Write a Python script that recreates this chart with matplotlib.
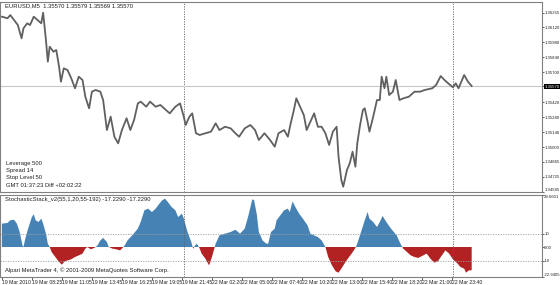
import numpy as np
import matplotlib
matplotlib.use("Agg")
import matplotlib.pyplot as plt

# price (close), x in bar index (M5 bars)
price_idx = [0, 6, 9, 13, 17, 21, 23, 27, 30, 34, 38, 42, 44, 47, 49, 51, 55, 58, 61, 63,
             66, 70, 74, 78, 82, 86, 89, 93, 96, 100, 105, 108, 112, 116, 120, 124, 128, 133,
             137, 141, 145, 148, 154, 158, 164, 169, 175, 179, 185, 190, 194, 196, 200, 203,
             207, 211, 217, 223, 228, 232, 238, 244, 249, 253, 259, 265, 270, 274, 280, 286,
             291, 295, 301, 305, 308, 311, 314, 318, 322, 325, 329, 333, 337, 341, 345, 349,
             353, 357, 359, 362, 364, 368, 371, 374, 377, 379, 382, 385, 387, 390, 392, 396,
             400, 403, 405, 408, 410, 413, 417, 420, 424, 428, 434, 440, 446, 451, 459, 463,
             468, 472, 476, 481, 484, 487, 493, 497, 501]
price = [1.36217, 1.36202, 1.36232, 1.36186, 1.36139, 1.36015, 1.36108, 1.36155, 1.36139,
         1.36217, 1.36186, 1.36155, 1.36254, 1.35999, 1.35797, 1.35937, 1.35890, 1.35906,
         1.35750, 1.35610, 1.35735, 1.35719, 1.35642, 1.35549, 1.35657, 1.35626, 1.35470,
         1.35362, 1.35517, 1.35533, 1.35517, 1.35439, 1.35159, 1.35284, 1.35097, 1.35035,
         1.35159, 1.35269, 1.35159, 1.35253, 1.35408, 1.35424, 1.35377, 1.35424, 1.35377,
         1.35393, 1.35346, 1.35315, 1.35377, 1.35408, 1.35284, 1.35206, 1.35284, 1.35315,
         1.35129, 1.35113, 1.35129, 1.35144, 1.35222, 1.35159, 1.35190, 1.35175, 1.35129,
         1.35097, 1.35175, 1.35206, 1.35159, 1.35066, 1.35129, 1.35066, 1.35004, 1.35129,
         1.35159, 1.35097, 1.35222, 1.35330, 1.35455, 1.35377, 1.35299, 1.35159, 1.35237,
         1.35315, 1.35190, 1.35190, 1.35129, 1.35020, 1.35144, 1.35190, 1.34910, 1.34693,
         1.34630, 1.34786, 1.34849, 1.34957, 1.34817, 1.35035, 1.35206, 1.35346, 1.35362,
         1.35237, 1.35144, 1.35284, 1.35439, 1.35439, 1.35657, 1.35549, 1.35657, 1.35486,
         1.35517, 1.35626, 1.35439, 1.35455, 1.35470, 1.35517, 1.35517, 1.35533, 1.35549,
         1.35579, 1.35663, 1.35626, 1.35595, 1.35558, 1.35595, 1.35549, 1.35673, 1.35611,
         1.35570]

# StochasticStack_v2 values
osc_idx = [0, 6, 9, 13, 16, 19, 22, 23, 25, 28, 32, 34, 36, 39, 42, 44, 47, 49, 51, 53,
           57, 61, 64, 67, 70, 74, 78, 82, 86, 89, 91, 95, 99, 102, 105, 108, 112, 114,
           118, 122, 126, 128, 131, 134, 139, 145, 148, 152, 156, 160, 164, 168, 171, 174,
           177, 181, 185, 188, 192, 194, 198, 202, 204, 206, 208, 211, 213, 217, 221, 224,
           226, 228, 232, 238, 244, 249, 254, 259, 263, 267, 269, 272, 274, 278, 282, 284,
           287, 291, 293, 297, 301, 305, 307, 310, 313, 317, 321, 326, 329, 333, 337, 341,
           345, 348, 352, 356, 359, 362, 366, 369, 373, 377, 379, 383, 387, 390, 392, 396,
           400, 403, 406, 410, 415, 421, 425, 428, 432, 436, 440, 444, 448, 453, 457, 461,
           465, 468, 473, 477, 481, 486, 489, 493, 495, 498, 501]
osc = [17.3, 17.8, 19.8, 20.2, 17.3, 11.1, 1.2, 0.0, 6.2, 13.6, 22.2, 24.2, 19.8, 18.5,
       21.0, 17.3, 9.9, 2.5, 0.0, -3.7, -7.4, -11.1, -13.1, -10.6, -9.9, -9.1, -7.4, -6.2,
       -4.9, -1.2, 0.0, -1.7, -0.5, 1.2, 4.9, 6.7, 3.7, 0.0, -1.2, -1.7, -2.5, -1.2, 1.2,
       4.9, 8.6, 13.6, 18.5, 27.2, 28.4, 25.9, 28.4, 32.1, 34.6, 35.8, 33.3, 29.6, 27.2,
       22.2, 24.7, 21.0, 11.1, 3.7, -1.2, 1.2, 2.5, -1.2, -4.9, -8.6, -13.6, -7.4, -2.5,
       2.5, 8.6, 9.9, 11.1, 12.8, 9.9, 13.6, 23.5, 35.3, 34.6, 23.5, 11.1, 4.9, 2.5, 2.5,
       11.1, 13.6, 19.8, 23.5, 27.2, 28.4, 25.9, 33.8, 29.6, 24.7, 21.0, 16.0, 9.9, 8.6,
       7.4, 4.9, 0.0, -7.4, -13.6, -18.0, -19.0, -16.0, -11.6, -8.6, -4.9, -0.7, 2.5, 11.1,
       19.8, 25.9, 21.0, 18.5, 14.8, 18.5, 23.0, 18.5, 13.6, 8.6, 2.5, -1.2, -3.7, -6.2,
       -7.4, -8.1, -6.7, -4.9, -8.6, -11.6, -10.6, -7.4, -2.5, -4.9, -9.1, -12.3, -14.8,
       -16.0, -19.0, -17.3, -17.2]

date_ticks = ["19 Mar 2010", "19 Mar 08:25", "19 Mar 11:05", "19 Mar 13:45", "19 Mar 16:25",
              "19 Mar 19:05", "19 Mar 21:45", "22 Mar 02:20", "22 Mar 05:00", "22 Mar 07:40",
              "22 Mar 10:20", "22 Mar 13:00", "22 Mar 15:40", "22 Mar 18:20", "22 Mar 21:00",
              "22 Mar 23:40"]
price_ticks = [1.36255, 1.36120, 1.35980, 1.35840, 1.35700, 1.35420, 1.35280, 1.35140,
               1.35000, 1.34865, 1.34725, 1.34585]
bid = 1.35570
separators = [194, 481]
info_lines = ["Leverage 500", "Spread 14", "Stop Level 50", "GMT 01:37:23 Diff +02:02:22"]

plt.rcParams["font.family"] = ["Liberation Sans Narrow", "Liberation Sans", "DejaVu Sans"]

W, H = 560, 285
fig = plt.figure(figsize=(W / 100, H / 100), dpi=100)
fs = 4.2
fs_x = 3.7
fs_y = 3.05
edge = "#808080"
tcol = "#202020"

ax1 = fig.add_axes([0 / W, 1 - 192 / H, 542 / W, 190 / H])
ax2 = fig.add_axes([0 / W, 1 - 277 / H, 542 / W, 82 / H])

for ax in (ax1, ax2):
    ax.set_xlim(-2, 576)
    for s in ax.spines.values():
        s.set_color(edge)
        s.set_linewidth(0.8)
    for x in separators:
        ax.axvline(x, color="#606060", lw=0.6, ls=(0, (1.5, 1.5)))
    ax.yaxis.tick_right()
    ax.tick_params(axis="y", length=1.2, width=0.5, labelsize=fs_y, pad=0.4, colors=tcol)

# upper panel
ax1.set_ylim(1.34581, 1.36354)
ax1.axhline(bid, color="#c8c8c8", lw=0.8)
ax1.plot(price_idx, price, color="#606060", lw=1.3)
ax1.set_xticks([])
ax1.set_yticks(price_ticks + [bid])
ax1.set_yticklabels([f"{v:.5f}" for v in price_ticks] + [f"{bid:.5f}"])
ylbls = ax1.get_yticklabels()
ylbls[-1].set_color("white")
ylbls[-1].set_bbox(dict(facecolor="black", edgecolor="none", pad=0.3))
ylbls[-2].set_verticalalignment("bottom")
ax1.text(3, 1.3634, "EURUSD,M5  1.35570 1.35579 1.35569 1.35570", fontsize=fs,
         va="top", ha="left", color=tcol)
for i, t in enumerate(info_lines):
    ax1.text(4, 1.3485 - i * 0.00068, t, fontsize=fs, color=tcol, va="center")

# lower panel
ax2.set_ylim(-22.2, 38.5)
xo = np.array(osc_idx)
yo = np.array(osc)
ax2.fill_between(xo, 0, yo, where=yo >= 0, interpolate=True, color="#4682B4", lw=0)
ax2.fill_between(xo, 0, yo, where=yo <= 0, interpolate=True, color="#B22222", lw=0)
for lv in (10, -10):
    ax2.axhline(lv, color="#a0a0a0", lw=0.6, ls=(0, (1.5, 1.5)))
ax2.set_yticks([38.5, 10, 0, -10, -22.2])
ax2.set_yticklabels(["29.6601", "10", "0.00", "-10", "-22.9405"])
olbls = ax2.get_yticklabels()
olbls[0].set_verticalalignment("top")
olbls[-1].set_verticalalignment("bottom")
ax2.set_xticks(np.arange(len(date_ticks)) * 32)
ax2.set_xticklabels(date_ticks)
ax2.tick_params(axis="x", length=2, width=0.5, labelsize=fs_x, pad=0.5, colors=tcol)
for t in ax2.get_xticklabels():
    t.set_horizontalalignment("left")
ax2.text(3, 37, "StochasticStack_v2(55,1,20,55-192) -17.2290 -17.2290", fontsize=fs,
         va="top", ha="left", color=tcol)
ax2.text(3, -17.5, "Alpari MetaTrader 4, \u00a9 2001-2009 MetaQuotes Software Corp.",
         fontsize=fs, va="center", ha="left", color=tcol)

fig.savefig("out.png", dpi=100)
